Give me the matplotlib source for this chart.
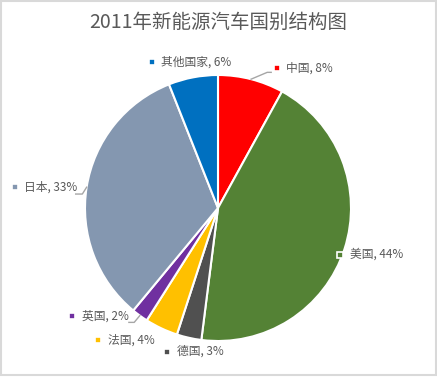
"""2011 new-energy vehicle structure by country — pie chart."""
import numpy as np
import matplotlib.pyplot as plt
from matplotlib.patches import Rectangle

plt.rcParams['font.family'] = ['Noto Sans CJK SC', 'DejaVu Sans']

COUNTRIES = ["中国", "美国", "德国", "法国", "英国", "日本", "其他国家"]
SHARES = [8, 44, 3, 4, 2, 33, 6]
COLORS = ["#FF0000", "#548235", "#505050", "#FFC000", "#7030A0", "#8497B0", "#0070C0"]

# label marker anchors, in pie-radius units (layout only)
LABEL_POS = [(0.44, 1.05), (0.92, -0.35), (-0.38, -1.08), (-0.90, -0.99),
             (-1.10, -0.81), (-1.53, 0.16), (-0.50, 1.10)]
LEADERS = {"中国": [(0.37, 1.02), (0.40, 1.02)],
           "日本": [(-1.02, 0.105), (-1.07, 0.105)],
           "英国": [(-0.63, -0.86), (-0.67, -0.86)]}

W, H = 437, 377
CX, CY, R = 218, 169, 133   # pie centre (px from bottom-left) and radius

fig = plt.figure(figsize=(W / 100, H / 100), dpi=100)
ax = fig.add_axes([0, 0, 1, 1])

wedges, _ = ax.pie(SHARES, colors=COLORS, startangle=90, counterclock=False,
                   radius=1, wedgeprops=dict(edgecolor="white", linewidth=1.5))
ax.set_xlim(-CX / R, (W - CX) / R)
ax.set_ylim(-CY / R, (H - CY) / R)
ax.set_aspect("auto")
ax.axis("off")

# labels with legend-key squares
cum = np.cumsum([0] + SHARES[:-1])
for name, val, col, (lx, ly), c0 in zip(COUNTRIES, SHARES, COLORS, LABEL_POS, cum):
    theta = np.deg2rad((c0 + val / 2) / 100 * 360)
    ex, ey = np.sin(theta), np.cos(theta)
    if name in LEADERS:
        pts = [(ex, ey)] + LEADERS[name]
        xs, ys = zip(*pts)
        ax.plot(xs, ys, color="#A6A6A6", lw=1, zorder=5)
    ax.plot(lx, ly, marker="s", ms=5, color=col, mec="white", mew=1.2)
    ax.text(lx + 0.075, ly, f"{name}, {val}%", fontsize=8.5, color="#595959",
            ha="left", va="center")

ax.text(0, (H - 22 - CY) / R, "2011年新能源汽车国别结构图", fontsize=14,
        color="#595959", ha="center", va="center")

fig.patches.append(Rectangle((0.002, 0.004), 0.996, 0.993, transform=fig.transFigure,
                             fill=False, edgecolor="#D9D9D9", lw=1.5))

fig.savefig("out.png", dpi=100)
plt.close(fig)
